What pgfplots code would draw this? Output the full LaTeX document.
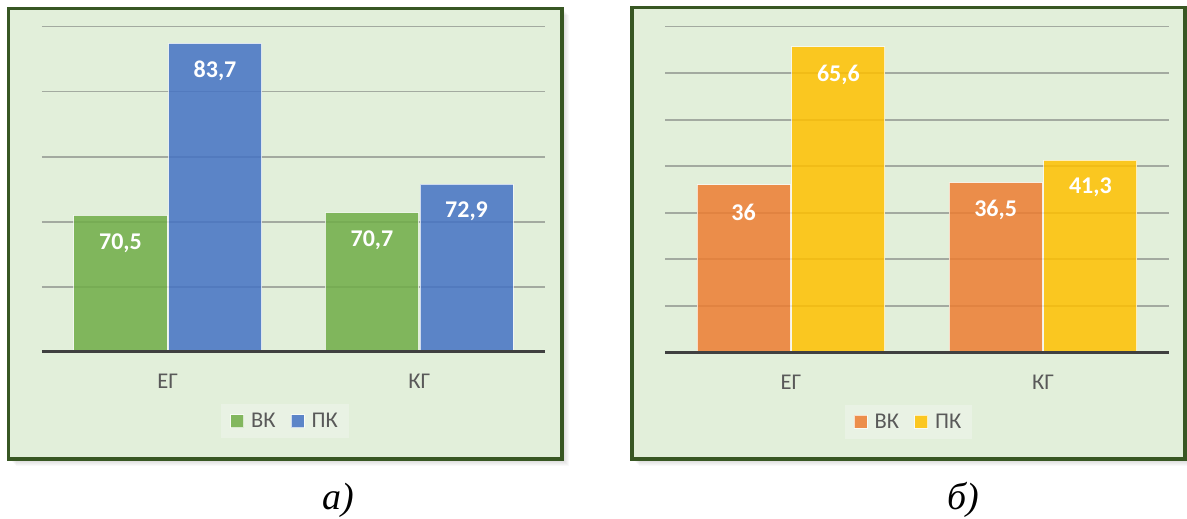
\documentclass[border=0pt]{standalone}
\usepackage{fontspec}
\setmainfont{Carlito}
\newfontfamily\capfont{Liberation Serif}
\usepackage{pgfplots}
\pgfplotsset{compat=1.18}

\definecolor{panelbg}{HTML}{E2EFDA}
\definecolor{panelframe}{HTML}{385723}
\definecolor{gridcol}{HTML}{A3AAA0}
\definecolor{basecol}{HTML}{404040}
\definecolor{labelcol}{HTML}{595959}
\definecolor{legendbg}{HTML}{E9F2E4}
\definecolor{vkgreen}{HTML}{70AD47}
\definecolor{pkblue}{HTML}{4472C4}
\definecolor{vkorange}{HTML}{ED7D31}
\definecolor{pkyellow}{HTML}{FFC000}

\pgfplotsset{
  panel/.style={
    scale only axis, width=503pt, height=325.5pt,
    anchor=south west,
    xmin=-0.5, xmax=1.5,
    xtick={0,1}, xticklabels={ЕГ,КГ},
    ymajorgrids, yticklabels={},
    major grid style={gridcol, line width=1.8pt},
    axis line style={draw=none},
    major tick length=0pt,
    ybar=1.5pt, bar width=0.37,
    every axis plot/.append style={draw=white, draw opacity=0.7, line width=1pt, fill opacity=0.85},
    xticklabel style={font=\fontsize{22.5}{22.5}\selectfont, text=labelcol, yshift=-19pt},
    /pgf/number format/use comma,
    /pgf/number format/fixed,
    /pgf/number format/precision=1,
    /pgf/number format/assume math mode=true,
    nodes near coords,
    every node near coord/.append style={font=\fontsize{24}{24}\selectfont\bfseries, text=white, text opacity=1, anchor=center, yshift=-27.5pt},
    legend style={at={(0.483,-0.212)}, anchor=center, draw=none, fill=legendbg,
      font=\fontsize{22.5}{22.5}\selectfont, text=labelcol, inner xsep=9pt, inner ysep=7pt,
      /tikz/every odd column/.append style={column sep=5pt},
      /tikz/every even column/.append style={column sep=13pt}},
    legend columns=2,
    legend image code/.code={\fill[##1] (0pt,-6.5pt) rectangle (13pt,6.5pt);},
    after end axis/.code={\draw[basecol, line width=3pt] (rel axis cs:0,0) -- (rel axis cs:1,0);},
  }
}

\begin{document}
\begin{tikzpicture}
\begin{scope}[x=1pt, y=1pt]
  \fill[white] (0,0) rectangle (1187,519);
  \useasboundingbox (0,0) rectangle (1187,519);
  % soft shadows behind both panels
  \foreach \i in {1,...,7} {
    \fill[black, opacity=0.025] ({8.5+\i},{60-\i}) rectangle ({562+\i},{510.5-\i});
    \fill[black, opacity=0.025] ({632+\i},{60-\i}) rectangle ({1185+\i},{511.5-\i});
  }
  % panels
  \draw[panelframe, fill=panelbg, line width=3.5pt] (8.5,60) rectangle (562,510.5);
  \draw[panelframe, fill=panelbg, line width=3.5pt] (632,60) rectangle (1185,511.5);
  % captions
  \node[font=\capfont\itshape\fontsize{38}{38}\selectfont, anchor=base, inner sep=0pt] at (338,9) {а)};
  \node[font=\capfont\itshape\fontsize{38}{38}\selectfont, anchor=base, inner sep=0pt] at (963,9) {б)};
\end{scope}

% panel a
\begin{axis}[panel, at={(42pt,167pt)}, ymin=60, ymax=85, ytick={60,65,...,85}]
  \addplot[fill=vkgreen] coordinates {(0,70.5) (1,70.7)};
  \addplot[fill=pkblue] coordinates {(0,83.7) (1,72.9)};
  \legend{ВК,ПК}
\end{axis}

% panel b
\begin{axis}[panel, at={(665pt,166.5pt)}, width=504pt, height=326pt, ymin=0, ymax=70, ytick={0,10,...,70}]
  \addplot[fill=vkorange] coordinates {(0,36) (1,36.5)};
  \addplot[fill=pkyellow] coordinates {(0,65.6) (1,41.3)};
  \legend{ВК,ПК}
\end{axis}
\end{tikzpicture}
\end{document}
